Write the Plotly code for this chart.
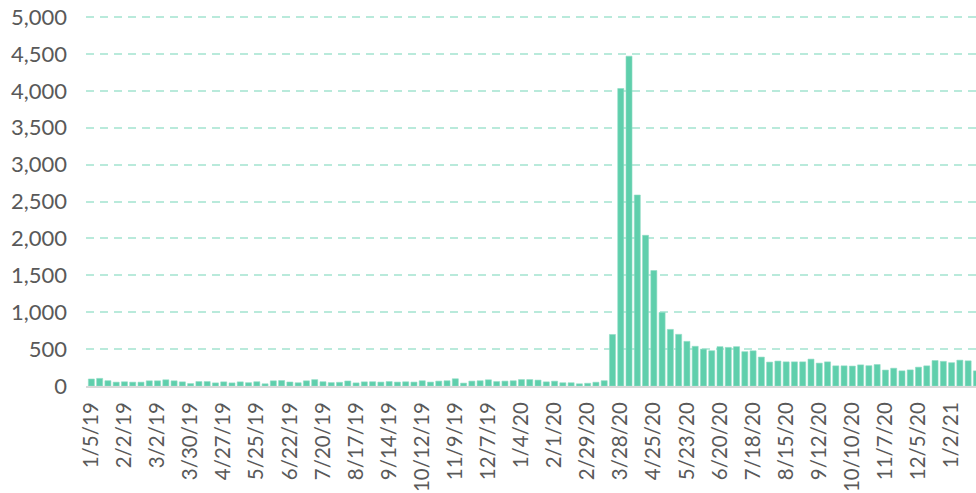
import plotly.graph_objects as go
import pandas as pd

# Weekly values (week ending dates start 1/5/19)
values = [
    95, 103, 72, 52, 57, 52, 52, 70, 70, 84,
    70, 56, 33, 60, 60, 42, 56, 42, 56, 45,
    58, 30, 70, 74, 54, 44, 70, 86, 58, 46,
    50, 68, 42, 56, 58, 53, 60, 53, 57, 53,
    71, 53, 66, 71, 98, 39, 66, 71, 84, 60,
    66, 71, 87, 87, 80, 56, 65, 44, 44, 30,
    37, 51, 72, 698, 4031, 4469, 2588, 2042, 1565, 997,
    767, 700, 605, 538, 500, 478, 533, 523, 533, 465,
    477, 392, 324, 338, 327, 327, 327, 364, 310, 327,
    273, 273, 270, 286, 275, 291, 216, 241, 205, 218,
    255, 273, 345, 334, 316, 350, 341, 205,
]

dates = pd.date_range("2019-01-05", periods=len(values), freq="7D")
categories = [f"{d.month}/{d.day}/{d.strftime('%y')}" for d in dates]
tick_labels = categories[::4]

y_ticks = [0, 500, 1000, 1500, 2000, 2500, 3000, 3500, 4000, 4500, 5000]

FONT = "Lato"
TXT = "#595959"

fig = go.Figure(
    go.Bar(
        x=categories,
        y=values,
        marker=dict(color="#5fcfac", line=dict(color="#8fdcc4", width=0.6)),
        hoverinfo="x+y",
    )
)

fig.update_layout(
    width=976,
    height=493,
    margin=dict(l=86, r=0, t=12, b=107),
    paper_bgcolor="white",
    plot_bgcolor="white",
    bargap=0.27,
    showlegend=False,
    font=dict(family=FONT, size=21, color=TXT),
)

fig.update_xaxes(
    type="category",
    automargin=False,
    range=[-0.65, 106.95],
    tickmode="array",
    tickvals=tick_labels,
    ticktext=tick_labels,
    tickangle=-90,
    tickfont=dict(family=FONT, size=20.5, color=TXT),
    showgrid=False,
    showline=True,
    linecolor="#d9d9d9",
    linewidth=2,
    ticks="",
    ticklabelstandoff=6,
)

fig.update_yaxes(
    automargin=False,
    range=[0, 5068],
    tickmode="array",
    tickvals=y_ticks,
    tickformat=",",
    tickfont=dict(family=FONT, size=22, color=TXT),
    showgrid=True,
    gridcolor="#b9eadb",
    gridwidth=2,
    griddash="8px,6px",
    zeroline=False,
    showline=False,
    ticks="",
    ticklabelstandoff=18,
)

fig.write_html(
    "out.html",
    config={"displayModeBar": False},
    post_script="document.body.style.margin='0px';",
)
